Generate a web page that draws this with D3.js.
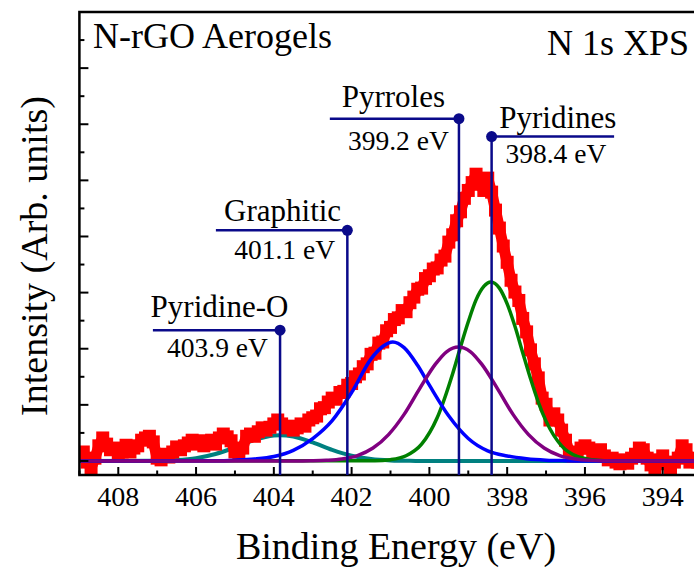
<!DOCTYPE html>
<html><head><meta charset="utf-8">
<script src="https://cdn.jsdelivr.net/npm/d3@7"></script>
</head><body style="margin:0">
<svg id="c" width="694" height="569"></svg>
<script>
// ---------- data ----------
const xMajorTicks = [408, 406, 404, 402, 400, 398, 396, 394];
const xMinorTicks = [409, 407, 405, 403, 401, 399, 397, 395, 393];
const yMajorTicks = [0, 1, 2, 3, 4, 5, 6, 7];
const yMinorTicks = [0.5, 1.5, 2.5, 3.5, 4.5, 5.5, 6.5, 7.5];

// measured N 1s spectrum, 0.1 eV steps from 409.0 eV down to 393.0 eV
const dataStartEV = 409.0, dataStepEV = 0.1;
const measured = [
  0.09,0.16,-0.02,-0.12,0.05,0.27,0.41,0.30,0.20,0.23,
  0.12,0.16,0.28,0.16,0.23,0.27,0.37,0.41,0.44,0.34,
  0.05,0.02,0.12,0.07,0.16,0.25,0.20,0.27,0.32,0.37,
  0.30,0.36,0.27,0.34,0.37,0.30,0.41,0.48,0.43,0.36,
  0.16,0.12,0.23,0.44,0.48,0.44,0.52,0.59,0.55,0.60,
  0.66,0.73,0.66,0.59,0.62,0.55,0.59,0.66,0.62,0.73,
  0.77,0.80,0.93,0.95,1.05,1.12,1.10,1.22,1.24,1.35,
  1.38,1.50,1.55,1.68,1.73,1.90,1.92,2.10,2.12,2.32,
  2.38,2.52,2.55,2.68,2.66,2.82,2.92,3.06,3.08,3.25,
  3.30,3.42,3.44,3.58,3.65,3.90,4.03,4.28,4.44,4.68,
  4.82,4.96,5.11,4.93,4.82,5.04,4.79,4.47,4.15,3.83,
  3.54,3.22,3.01,2.86,2.54,2.30,1.98,1.73,1.48,1.12,
  1.01,0.73,0.84,0.73,0.55,0.37,0.16,0.09,0.12,0.23,
  0.27,0.23,0.16,0.12,0.20,0.09,0.02,0.05,-0.02,-0.05,
  0.02,-0.04,0.05,0.12,0.23,0.20,0.05,-0.07,-0.12,0.02,
  0.09,-0.05,-0.12,-0.02,0.05,0.27,0.20,-0.02,0.05,-0.02,
  0.02
];

// fitted components
const greenE = [409,401.4,401.0,400.6,400.2,399.8,399.4,399.2,399.0,398.8,398.6,398.42,398.2,398.0,397.8,397.6,397.4,397.2,397.0,396.6,396.2,395.8,395.4,393];
const greenV = [0,0.004,0.023,0.093,0.30,0.77,1.56,2.03,2.48,2.87,3.11,3.19,3.08,2.80,2.40,1.93,1.47,1.05,0.71,0.27,0.08,0.02,0,0];
const purpleE = [409,403.45,403.05,402.65,402.25,401.85,401.45,401.05,400.65,400.25,399.85,399.55,399.25,398.95,398.65,398.25,397.85,397.45,397.05,396.65,396.25,395.85,395.45,395.05,393];
const purpleV = [0,0,0.003,0.011,0.034,0.095,0.23,0.47,0.83,1.29,1.72,1.95,2.03,1.95,1.72,1.29,0.83,0.47,0.23,0.095,0.034,0.011,0.003,0,0];
const blueE = [409,405.5,405.0,404.5,404.0,403.5,403.0,402.5,402.0,401.5,401.2,400.94,400.65,400.3,400.0,399.5,399.0,398.5,398.0,397.5,397.0,396.5,396.0,393];
const blueV = [0,0.005,0.015,0.035,0.08,0.19,0.40,0.72,1.22,1.82,2.04,2.12,2.02,1.70,1.35,0.80,0.40,0.18,0.09,0.04,0.015,0.005,0,0];
const tealE = [409,407.0,406.5,406.0,405.5,405.0,404.5,404.0,403.84,403.5,403.0,402.5,402.0,401.5,401.0,400.5,400.0,393];
const tealV = [0,0.004,0.016,0.05,0.125,0.24,0.375,0.455,0.46,0.435,0.33,0.197,0.093,0.035,0.010,0.002,0,0];

// peak markers
const markerNames  = ["Pyridine-O", "Graphitic", "Pyrroles", "Pyridines"];
const markerValues = ["403.9 eV", "401.1 eV", "399.2 eV", "398.4 eV"];
const markerEV     = [403.84, 402.11, 399.24, 398.40];
const markerTopY   = [2.33, 4.11, 6.10, 5.78];
const markerArmEV  = [407.11, 405.49, 402.56, 395.25];

// ---------- layout ----------
const FONT = "Liberation Serif";
const svg = d3.select("#c");
const L = 79.4, R = 701.6, T = 12, B = 475;
const x = d3.scaleLinear().domain([409, 393]).range([L, R]);
const y = d3.scaleLinear().domain([-0.25, 8]).range([B, T]);
const navy = "#0a0a8a";

svg.append("defs").append("clipPath").attr("id","clip")
  .append("rect").attr("x",L).attr("y",T).attr("width",R-L).attr("height",B-T);

const plot = svg.append("g").attr("clip-path","url(#clip)");
const cl = d3.line().x(d=>x(d[0])).y(d=>y(d[1])).curve(d3.curveMonotoneX);
function drawComp(E, V, c, w){
  const arr = E.map((e,i)=>[e, V[i]]).sort((a,b)=>b[0]-a[0]);
  plot.append("path").datum(arr).attr("fill","none")
    .attr("stroke",c).attr("stroke-width",w).attr("d",cl);
}

drawComp(tealE, tealV, "#008080", 4);

const pts = measured.map((v,i)=>({e: dataStartEV - i*dataStepEV, v}));
plot.append("path").datum(pts)
  .attr("fill","none").attr("stroke","#ff0000").attr("stroke-width",11)
  .attr("stroke-linejoin","bevel")
  .attr("d", d3.line().x(d=>x(d.e)).y(d=>y(d.v)));
plot.selectAll("rect.pt").data(pts).enter().append("rect")
  .attr("class","pt")
  .attr("x", d=>x(d.e)-6.5).attr("y", d=>y(d.v)-6.5)
  .attr("width",13).attr("height",13).attr("fill","#ff0000");

drawComp(greenE, greenV, "#008000", 3.5);
drawComp(blueE, blueV, "#0000ff", 3.5);
drawComp(purpleE, purpleV, "#800080", 3.5);

svg.append("rect").attr("x",L).attr("y",T).attr("width",R-L).attr("height",B-T)
  .attr("fill","none").attr("stroke","#000").attr("stroke-width",2.5);

// x axis: ticks drawn inward, labels as plain text
svg.append("g").selectAll("line").data(xMajorTicks).enter().append("line")
  .attr("x1",d=>x(d)).attr("x2",d=>x(d)).attr("y1",B).attr("y2",B-8)
  .attr("stroke","#000").attr("stroke-width",2);
svg.append("g").selectAll("line").data(xMinorTicks).enter().append("line")
  .attr("x1",d=>x(d)).attr("x2",d=>x(d)).attr("y1",B).attr("y2",B-4.5)
  .attr("stroke","#000").attr("stroke-width",2);
xMajorTicks.forEach(t=>{
  svg.append("text").attr("x",x(t)).attr("y",506).attr("text-anchor","middle")
    .style("font-family",FONT).style("font-size","28px").text(String(t));
});

svg.append("g").selectAll("line").data(yMajorTicks).enter().append("line")
  .attr("x1",L).attr("x2",L+9).attr("y1",d=>y(d)).attr("y2",d=>y(d))
  .attr("stroke","#000").attr("stroke-width",2);
svg.append("g").selectAll("line").data(yMinorTicks).enter().append("line")
  .attr("x1",L).attr("x2",L+5).attr("y1",d=>y(d)).attr("y2",d=>y(d))
  .attr("stroke","#000").attr("stroke-width",2);

function txt(sel, size){ return sel.style("font-family",FONT).style("font-size",size+"px"); }

const nameDy = [-13, -9, -12, -9];
const valDy  = [27, 29, 31, 26];
const nameDx = [3, 1, -1, 5];
const valDx  = [1, 3, 4, 3];
markerEV.forEach((e,i)=>{
  const xv = x(e), yt = y(markerTopY[i]), xa2 = x(markerArmEV[i]);
  svg.append("line").attr("x1",xv).attr("x2",xv).attr("y1",yt).attr("y2",B)
    .attr("stroke",navy).attr("stroke-width",2.5);
  svg.append("line").attr("x1",xa2).attr("x2",xv).attr("y1",yt).attr("y2",yt)
    .attr("stroke",navy).attr("stroke-width",2.5);
  svg.append("circle").attr("cx",xv).attr("cy",yt).attr("r",5.5).attr("fill",navy);
  const cx = (xv + xa2)/2;
  txt(svg.append("text").attr("x",cx+nameDx[i]).attr("y",yt+nameDy[i]).attr("text-anchor","middle"),31)
    .text(markerNames[i]);
  txt(svg.append("text").attr("x",cx+valDx[i]).attr("y",yt+valDy[i]).attr("text-anchor","middle"),27.5)
    .text(markerValues[i]);
});

txt(svg.append("text").attr("x",93).attr("y",48),36).text("N-rGO Aerogels");
txt(svg.append("text").attr("x",547).attr("y",55),36).text("N 1s XPS");
txt(svg.append("text").attr("x",396).attr("y",559).attr("text-anchor","middle"),38)
  .text("Binding Energy (eV)");
txt(svg.append("text").attr("transform","translate(47,256) rotate(-90)").attr("text-anchor","middle"),38)
  .text("Intensity (Arb. units)");
</script>
</body></html>
